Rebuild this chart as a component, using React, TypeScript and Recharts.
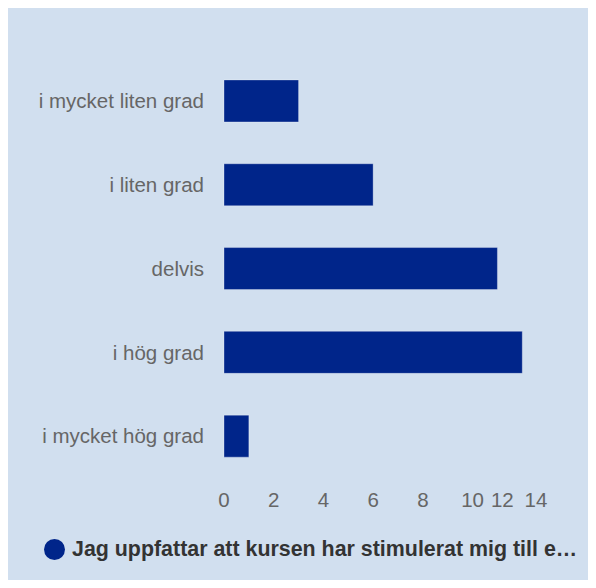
import React from "react";
import { BarChart, Bar, XAxis, YAxis, Legend } from "recharts";

const categories = ["i mycket liten grad", "i liten grad", "delvis", "i hög grad", "i mycket hög grad"];
const values = [3, 6, 11, 12, 1];
const xTicks = [0, 2, 4, 6, 8, 10, 12, 14];
const seriesName = "Jag uppfattar att kursen har stimulerat mig till e…";

const data = categories.map((c, i) => ({ name: c, value: values[i] }));

const BAR = "#00258a";
const BG = "#d1dfef";
const FONT = "Arial, 'Liberation Sans', sans-serif";

// label nudges to mimic overlap avoidance in the reference
const labelShift: Record<number, number> = { 12: -20, 14: -36 };

const XTick = (props: any) => {
  const { x, y, payload } = props;
  const dx = labelShift[payload.value] || 0;
  return (
    <text x={x + dx} y={y} dy="0.71em" textAnchor="middle" fill="#666" fontSize={20.5} fontFamily={FONT}>
      {payload.value}
    </text>
  );
};

const LegendContent = () => (
  <div style={{ height: 42, width: 580, display: "flex", alignItems: "center", paddingLeft: 36, boxSizing: "border-box", fontFamily: FONT }}>
    <span style={{ display: "inline-block", flexShrink: 0, width: 21, height: 21, borderRadius: 11, background: BAR, marginRight: 7 }} />
    <span style={{ fontWeight: "bold", fontSize: 21.4, color: "#333", whiteSpace: "nowrap", flexShrink: 0 }}>{seriesName}</span>
  </div>
);

export default function App() {
  return (
    <div style={{ width: 580, height: 572, background: BG }}>
      <BarChart width={580} height={572} data={data} layout="vertical" margin={{ top: 51, right: 16, bottom: 10, left: 0 }} barCategoryGap="25%">
        <XAxis
          type="number"
          domain={[0, 14]}
          ticks={xTicks}
          axisLine={false}
          tickLine={false}
          tickSize={0}
          tickMargin={14}
          height={50}
          tick={<XTick />}
          interval={0}
        />
        <YAxis
          type="category"
          dataKey="name"
          width={216}
          axisLine={false}
          tickLine={false}
          tickSize={0}
          tickMargin={20}
          tick={{ fill: "#666", fontSize: 20.5, fontFamily: FONT }}
          interval={0}
        />
        <Legend verticalAlign="bottom" content={<LegendContent />} />
        <Bar dataKey="value" fill={BAR} stroke="rgba(255,255,255,0.3)" strokeWidth={1} isAnimationActive={false} />
      </BarChart>
    </div>
  );
}
